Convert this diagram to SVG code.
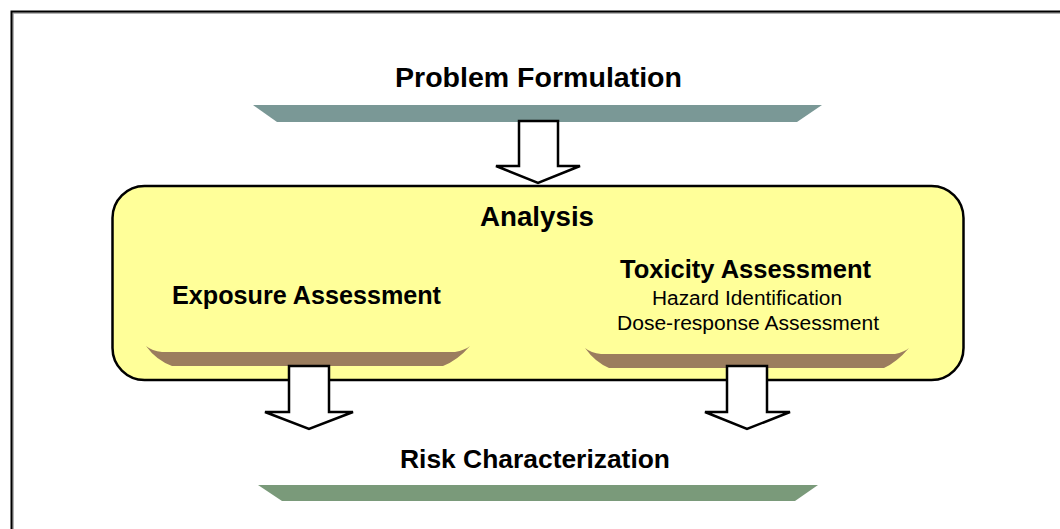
<svg xmlns="http://www.w3.org/2000/svg" width="1060" height="529" viewBox="0 0 1060 529">
<style>
.t{font-family:"Liberation Sans",Arial,sans-serif;fill:#000;text-anchor:middle}
.b{font-weight:bold}
.arrow{fill:#fff;stroke:#000;stroke-width:2.5;stroke-linejoin:miter}
.tray{fill:#9b7d5e}
</style>
<rect width="1060" height="529" fill="#fff"/>
<path d="M12,529 V12 H1060" fill="none" stroke="#9a9a9a" stroke-width="1.5" transform="translate(1,1)"/>
<path d="M11.5,529 V11.5 H1060" fill="none" stroke="#000" stroke-width="2"/>

<g id="problem-formulation">
  <text class="t b" x="538.5" y="87" font-size="27" textLength="287" lengthAdjust="spacingAndGlyphs">Problem Formulation</text>
  <polygon points="253,105 822,105 797,122 277,122" fill="#7a9896"/>
</g>

<g id="analysis">
  <rect x="112.5" y="186" width="851" height="194" rx="32" ry="32" fill="#ffff99" stroke="#000" stroke-width="2.5"/>
  <text class="t b" x="537" y="226" font-size="27" textLength="114" lengthAdjust="spacingAndGlyphs">Analysis</text>
</g>

<g id="exposure-assessment">
  <text class="t b" x="306.5" y="304" font-size="25" textLength="269" lengthAdjust="spacingAndGlyphs">Exposure Assessment</text>
  <path class="tray" d="M146,346 Q152,351 162,352 L455,352 Q465,350 470,346 Q458,360 443,366 L172,366 Q156,360 146,346 Z"/>
</g>

<g id="toxicity-assessment">
  <text class="t b" x="745.5" y="278" font-size="25" textLength="251" lengthAdjust="spacingAndGlyphs">Toxicity Assessment</text>
  <text class="t" x="747" y="305" font-size="20" textLength="190" lengthAdjust="spacingAndGlyphs">Hazard Identification</text>
  <text class="t" x="748" y="330" font-size="20" textLength="262" lengthAdjust="spacingAndGlyphs">Dose-response Assessment</text>
  <path class="tray" d="M585,348 Q591,353 601,354 L895,354 Q904,352 909,348 Q897,362 884,368 L609,368 Q595,362 585,348 Z"/>
</g>

<g id="risk-characterization">
  <text class="t b" x="535" y="468" font-size="26" textLength="270" lengthAdjust="spacingAndGlyphs">Risk Characterization</text>
  <polygon points="258,485 818,485 795,501 282,501" fill="#7a9a7a"/>
</g>

<g id="connectors">
  <polygon class="arrow" points="519,121 558,121 558,166 580,166 538,183 496,166 519,166"/>
  <polygon class="arrow" points="289,366 329,366 329,412 353,412 309,429 265,412 289,412"/>
  <polygon class="arrow" points="727,366 767,366 767,412 790,412 747,429 705,412 727,412"/>
</g>
</svg>
